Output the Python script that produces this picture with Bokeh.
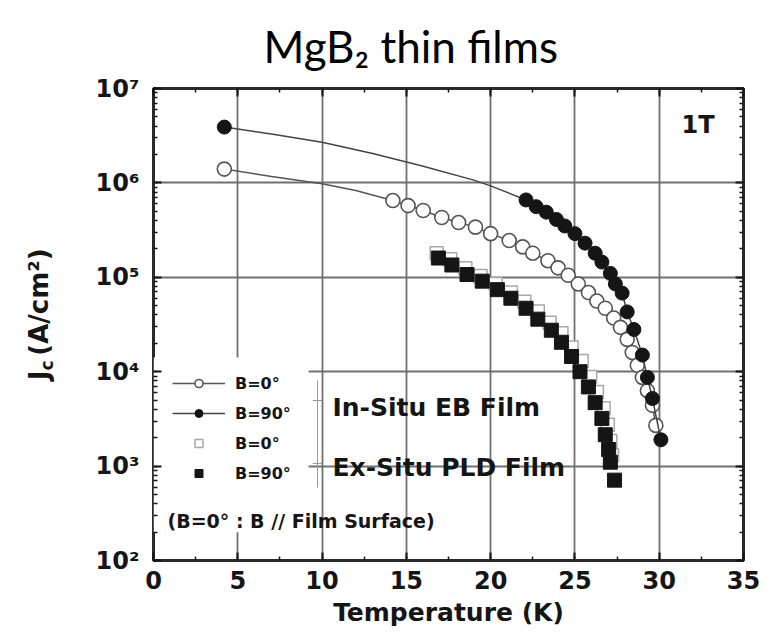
import math
from bokeh.plotting import figure
from bokeh.layouts import row
from bokeh.models import (Range1d, LinearAxis, LogAxis, SingleIntervalTicker, LogTicker,
                          Label, BoxAnnotation, Legend, LegendItem, ColumnDataSource)
from bokeh.embed import file_html
from bokeh.resources import INLINE

# ---------------- data ----------------
# In-Situ EB film, B = 0 deg (open circles)
T_is0 = [4.2, 14.2, 15.1, 16.0, 17.1, 18.1, 19.1, 20.0, 21.1, 21.9, 22.5, 23.4, 24.0, 24.6,
         25.2, 25.8, 26.3, 26.8, 27.3, 27.7, 28.1, 28.4, 28.7, 29.0, 29.3, 29.6, 29.8]
Jc_is0 = [1.4e6, 6.5e5, 5.75e5, 5.1e5, 4.3e5, 3.8e5, 3.4e5, 2.9e5, 2.45e5, 2.1e5, 1.8e5, 1.5e5,
          1.26e5, 1.05e5, 8.5e4, 6.9e4, 5.6e4, 4.7e4, 3.7e4, 2.95e4, 2.2e4, 1.6e4, 1.17e4,
          8.7e3, 6.3e3, 4.4e3, 2.7e3]
# guide line between 4.2 K and the dense data
T_is0_guide = [4.2, 7.0, 10.0, 12.0, 14.2]
Jc_is0_guide = [1.4e6, 1.17e6, 9.8e5, 8.3e5, 6.5e5]

# In-Situ EB film, B = 90 deg (filled circles)
T_is90 = [4.2, 22.1, 22.7, 23.3, 23.9, 24.4, 25.0, 25.6, 26.2, 26.6, 27.1, 27.4, 27.8,
          28.1, 28.5, 29.0, 29.3, 29.6, 30.1]
Jc_is90 = [3.9e6, 6.6e5, 5.6e5, 4.9e5, 4.1e5, 3.5e5, 2.9e5, 2.3e5, 1.8e5, 1.45e5, 1.1e5,
           8.5e4, 6.8e4, 4.3e4, 2.8e4, 1.5e4, 8.7e3, 5.2e3, 1.9e3]
T_is90_guide = [4.2, 7.0, 10.0, 13.0, 16.0, 19.0, 20.0, 22.1]
Jc_is90_guide = [3.9e6, 3.3e6, 2.7e6, 2.05e6, 1.5e6, 1.07e6, 9.3e5, 6.6e5]

# Ex-Situ PLD film, B = 0 deg (open squares)
T_ex0 = [16.8, 17.6, 18.5, 19.4, 20.3, 21.2, 22.0, 22.8, 23.5, 24.2, 24.8, 25.4, 25.9,
         26.3, 26.7, 26.95, 27.1, 27.2]
Jc_ex0 = [1.8e5, 1.55e5, 1.25e5, 1.03e5, 8.5e4, 6.9e4, 5.5e4, 4.35e4, 3.3e4, 2.55e4, 1.8e4,
          1.3e4, 8.8e3, 6.1e3, 4.1e3, 2.75e3, 1.85e3, 1.3e3]

# Ex-Situ PLD film, B = 90 deg (filled squares)
T_ex90 = [16.9, 17.7, 18.6, 19.5, 20.4, 21.2, 22.1, 22.8, 23.6, 24.2, 24.8, 25.3, 25.8,
          26.2, 26.6, 26.8, 27.0, 27.1, 27.35]
Jc_ex90 = [1.6e5, 1.35e5, 1.07e5, 9.1e4, 7.4e4, 6.0e4, 4.7e4, 3.6e4, 2.75e4, 2.05e4, 1.45e4,
           1.0e4, 6.9e3, 4.7e3, 3.2e3, 2.15e3, 1.5e3, 1.1e3, 7.1e2]

legend_labels = ["B=0°", "B=90°", "B=0°", "B=90°"]
y_ticks = [1e2, 1e3, 1e4, 1e5, 1e6, 1e7]
y_tick_labels = ["10²", "10³", "10⁴", "10⁵", "10⁶", "10⁷"]

FONT = "DejaVu Sans"
INK = "#151515"
H = 636
SIDE_W = 70

# ---------------- narrow strip holding the rotated y-axis title ----------------
side = figure(width=SIDE_W, height=H, x_range=Range1d(0, SIDE_W), y_range=Range1d(0, H),
              output_backend="svg", toolbar_location=None,
              min_border_left=0, min_border_right=0, min_border_top=0, min_border_bottom=0)
side.axis.visible = False
side.grid.visible = False
side.outline_line_color = None
side.background_fill_color = "white"
side.border_fill_color = "white"

def ylab(text, x, y, size):
    side.add_layout(Label(x=x, y=y, text=text, text_font=FONT, text_font_size=size,
                          text_font_style="bold", text_align="left", text_baseline="middle",
                          angle=math.pi / 2, text_color=INK))

ylab("J", 38, 243, "26px")
ylab("c", 46, 256, "17px")
ylab("(A/cm²)", 38, 276, "26px")

# ---------------- main plot ----------------
p = figure(width=765 - SIDE_W, height=H, x_range=Range1d(0, 35), y_range=Range1d(1e2, 1e7),
           y_axis_type="log", output_backend="svg", toolbar_location=None,
           min_border_left=153 - SIDE_W, min_border_right=22, min_border_top=88,
           min_border_bottom=76)

p.background_fill_color = "white"
p.border_fill_color = "white"
p.outline_line_color = "#2a2a2a"
p.outline_line_width = 3

xticker = SingleIntervalTicker(interval=5, num_minor_ticks=2)
yticker = LogTicker(num_minor_ticks=10)

p.xaxis.ticker = xticker
p.yaxis.ticker = yticker
p.xgrid.ticker = xticker
p.ygrid.ticker = yticker
for g in (p.xgrid, p.ygrid):
    g.grid_line_color = "#707070"
    g.grid_line_width = 1.8

def style_axis(ax):
    ax.axis_line_color = None
    ax.major_tick_in = 8
    ax.major_tick_out = 0
    ax.minor_tick_in = 4
    ax.minor_tick_out = 0
    ax.major_tick_line_color = INK
    ax.minor_tick_line_color = INK
    ax.major_tick_line_width = 2
    ax.minor_tick_line_width = 1.5
    ax.major_label_text_font = FONT
    ax.major_label_text_font_style = "bold"
    ax.major_label_text_color = INK
    ax.major_label_text_font_size = "24px"

style_axis(p.xaxis[0])
style_axis(p.yaxis[0])
p.xaxis.major_label_standoff = 10
p.yaxis.major_label_standoff = 14
p.yaxis.major_label_overrides = dict(zip(y_ticks, y_tick_labels))
p.xaxis.axis_label = "Temperature (K)"
p.xaxis.axis_label_text_font = FONT
p.xaxis.axis_label_text_font_style = "bold"
p.xaxis.axis_label_text_font_size = "25px"
p.xaxis.axis_label_text_color = INK
p.xaxis.axis_label_standoff = 6

top_ax = LinearAxis(ticker=xticker)
style_axis(top_ax)
top_ax.major_label_text_font_size = "1px"
top_ax.major_label_text_alpha = 0
top_ax.major_label_standoff = 0
p.add_layout(top_ax, "above")
right_ax = LogAxis(ticker=yticker)
style_axis(right_ax)
right_ax.major_label_text_font_size = "1px"
right_ax.major_label_text_alpha = 0
right_ax.major_label_standoff = 0
p.add_layout(right_ax, "right")

p.title.text = "MgB₂ thin films"
p.title.text_font = "Lato"
p.title.text_font_style = "normal"
p.title.text_font_size = "44px"
p.title.text_color = "black"
p.title.align = "left"
p.title.offset = 110
p.title.standoff = 34

# white backdrop of the legend block
p.add_layout(BoxAnnotation(left=0, right=9.2, bottom=10**2.3, top=10**4.15,
                           fill_color="white", fill_alpha=1, line_color=None,
                           level="underlay"))

# ---------------- series ----------------
src_is0 = ColumnDataSource(dict(T=T_is0, Jc=Jc_is0))
src_is90 = ColumnDataSource(dict(T=T_is90, Jc=Jc_is90))
src_ex0 = ColumnDataSource(dict(T=T_ex0, Jc=Jc_ex0))
src_ex90 = ColumnDataSource(dict(T=T_ex90, Jc=Jc_ex90))

r_ex0 = p.scatter("T", "Jc", source=src_ex0, marker="square", size=13,
                  fill_color="white", line_color="#a8a8a8", line_width=1.5)
r_ex90 = p.scatter("T", "Jc", source=src_ex90, marker="square", size=14,
                   fill_color=INK, line_color=INK)

l_is0 = p.line(T_is0_guide + T_is0[1:], Jc_is0_guide + Jc_is0[1:],
               line_color="#555555", line_width=1.5)
r_is0 = p.scatter("T", "Jc", source=src_is0, marker="circle", size=14,
                  fill_color="white", line_color="#555555", line_width=1.6)
l_is90 = p.line(T_is90_guide + T_is90[2:], Jc_is90_guide + Jc_is90[2:],
                line_color="#444444", line_width=1.5)
r_is90 = p.scatter("T", "Jc", source=src_is90, marker="circle", size=14,
                   fill_color=INK, line_color=INK)

legend = Legend(items=[
    LegendItem(label=legend_labels[0], renderers=[l_is0, r_is0]),
    LegendItem(label=legend_labels[1], renderers=[l_is90, r_is90]),
    LegendItem(label=legend_labels[2], renderers=[r_ex0]),
    LegendItem(label=legend_labels[3], renderers=[r_ex90]),
], location=(19, 77), orientation="vertical",
    glyph_width=53, glyph_height=20, label_height=20, label_standoff=10,
    spacing=10, padding=0, margin=0,
    background_fill_alpha=0, border_line_color=None,
    label_text_font=FONT, label_text_font_style="bold", label_text_font_size="16px",
    label_text_color=INK)
p.add_layout(legend, "center")

# bracket grouping the legend entries
p.segment(x0=[9.73, 9.45, 9.45], y0=[8070, 4950, 1067], x1=[9.73, 10.0, 10.0],
          y1=[593, 4950, 1067], line_color="#9a9a9a", line_width=1)

def add_label(text, x, y, size, align="left"):
    p.add_layout(Label(x=x, y=y, text=text, text_font=FONT, text_font_size=size,
                       text_font_style="bold", text_align=align, text_baseline="middle",
                       text_color=INK))

add_label("In-Situ EB Film", 10.62, 4180, "25px")
add_label("Ex-Situ PLD Film", 10.62, 966, "25px")
add_label("(B=0° : B // Film Surface)", 0.83, 265, "19px")
add_label("1T", 32.3, 4.07e6, "24px", align="center")

layout = row(side, p, spacing=0)
open("out.html", "w").write(file_html(layout, INLINE))
